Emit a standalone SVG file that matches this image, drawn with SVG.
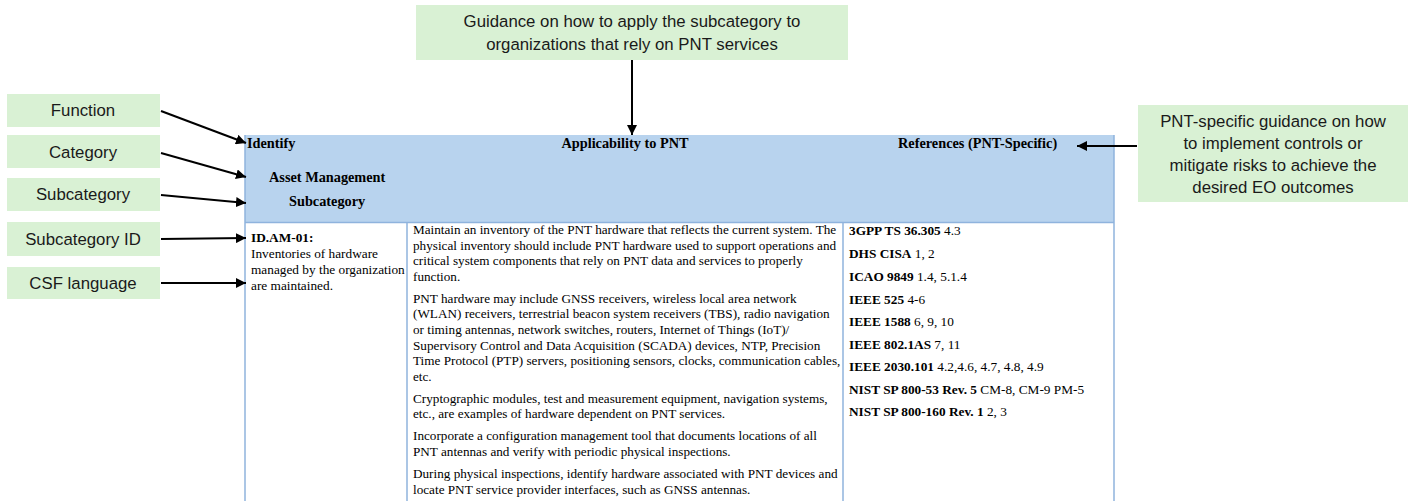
<svg xmlns="http://www.w3.org/2000/svg" width="1415" height="501" viewBox="0 0 1415 501">
<style>
.lbl{fill:#d9f1d4;}
.lt{font-family:"Liberation Sans",Arial,sans-serif;font-size:16.8px;fill:#1a1a1a;text-anchor:middle;}
.ser{font-family:"Liberation Serif","Times New Roman",serif;font-size:13.2px;fill:#000;}
.hd{font-family:"Liberation Serif","Times New Roman",serif;font-size:14.3px;font-weight:bold;fill:#000;}
.c1{font-size:13.3px;}
.c3{font-size:13.3px;}
.b{font-weight:bold;}
.con{stroke:#000;stroke-width:2;fill:none;marker-end:url(#ah);}
.grid{stroke:#8fb3dd;stroke-width:1.5;fill:none;}
</style>
<defs>
<marker id="ah" viewBox="0 0 10 10" refX="10" refY="5" markerWidth="5" markerHeight="5" orient="auto" markerUnits="strokeWidth">
<path d="M0,0 L10,5 L0,10 z" fill="#000"/>
</marker>
</defs>
<rect width="1415" height="501" fill="#fff"/>

<g id="table">
<rect x="245" y="135" width="869" height="87" fill="#b8d3ee"/>
<line class="grid" x1="245" y1="135" x2="245" y2="501"/>
<line class="grid" x1="1114" y1="135" x2="1114" y2="501"/>
<line class="grid" x1="245" y1="222.5" x2="1114" y2="222.5"/>
<line class="grid" x1="407" y1="222" x2="407" y2="501"/>
<line class="grid" x1="843" y1="222" x2="843" y2="501"/>
<text class="hd" x="247" y="148">Identify</text>
<text class="hd" x="625" y="148" text-anchor="middle">Applicability to PNT</text>
<text class="hd" x="898" y="148">References (PNT-Specific)</text>
<text class="hd" x="269" y="182">Asset Management</text>
<text class="hd" x="289" y="206">Subcategory</text>

<text class="ser c1 b" x="251" y="242">ID.AM-01:</text>
<text class="ser c1" x="251" y="258">Inventories of hardware</text>
<text class="ser c1" x="251" y="274">managed by the organization</text>
<text class="ser c1" x="251" y="290">are maintained.</text>

<text class="ser" x="413" y="234">Maintain an inventory of the PNT hardware that reflects the current system. The</text>
<text class="ser" x="413" y="249.6">physical inventory should include PNT hardware used to support operations and</text>
<text class="ser" x="413" y="265.2">critical system components that rely on PNT data and services to properly</text>
<text class="ser" x="413" y="280.8">function.</text>
<text class="ser" x="413" y="302.8">PNT hardware may include GNSS receivers, wireless local area network</text>
<text class="ser" x="413" y="318.4">(WLAN) receivers, terrestrial beacon system receivers (TBS), radio navigation</text>
<text class="ser" x="413" y="334">or timing antennas, network switches, routers, Internet of Things (IoT)/</text>
<text class="ser" x="413" y="349.6">Supervisory Control and Data Acquisition (SCADA) devices, NTP, Precision</text>
<text class="ser" x="413" y="365.2">Time Protocol (PTP) servers, positioning sensors, clocks, communication cables,</text>
<text class="ser" x="413" y="380.8">etc.</text>
<text class="ser" x="413" y="402.8">Cryptographic modules, test and measurement equipment, navigation systems,</text>
<text class="ser" x="413" y="418.4">etc., are examples of hardware dependent on PNT services.</text>
<text class="ser" x="413" y="440.4">Incorporate a configuration management tool that documents locations of all</text>
<text class="ser" x="413" y="456">PNT antennas and verify with periodic physical inspections.</text>
<text class="ser" x="413" y="478">During physical inspections, identify hardware associated with PNT devices and</text>
<text class="ser" x="413" y="493.6">locate PNT service provider interfaces, such as GNSS antennas.</text>

<text class="ser c3" x="849" y="235"><tspan class="b">3GPP TS 36.305</tspan> 4.3</text>
<text class="ser c3" x="849" y="258"><tspan class="b">DHS CISA</tspan> 1, 2</text>
<text class="ser c3" x="849" y="281"><tspan class="b">ICAO 9849</tspan> 1.4, 5.1.4</text>
<text class="ser c3" x="849" y="303.5"><tspan class="b">IEEE 525</tspan> 4-6</text>
<text class="ser c3" x="849" y="326"><tspan class="b">IEEE 1588</tspan> 6, 9, 10</text>
<text class="ser c3" x="849" y="348.5"><tspan class="b">IEEE 802.1AS</tspan> 7, 11</text>
<text class="ser c3" x="849" y="371"><tspan class="b">IEEE 2030.101</tspan> 4.2,4.6, 4.7, 4.8, 4.9</text>
<text class="ser c3" x="849" y="393.5"><tspan class="b">NIST SP 800-53 Rev. 5</tspan> CM-8, CM-9 PM-5</text>
<text class="ser c3" x="849" y="416"><tspan class="b">NIST SP 800-160 Rev. 1</tspan> 2, 3</text>
</g>

<g id="function">
<rect class="lbl" x="7" y="94" width="153" height="33"/>
<text class="lt" x="83" y="116">Function</text>
</g>
<g id="category">
<rect class="lbl" x="7" y="135" width="153" height="33"/>
<text class="lt" x="83" y="158">Category</text>
</g>
<g id="subcategory">
<rect class="lbl" x="7" y="178" width="153" height="33"/>
<text class="lt" x="83" y="200">Subcategory</text>
</g>
<g id="subcategory-id">
<rect class="lbl" x="7" y="222" width="153" height="34"/>
<text class="lt" x="83" y="245">Subcategory ID</text>
</g>
<g id="csf-language">
<rect class="lbl" x="7" y="267" width="153" height="32"/>
<text class="lt" x="83" y="289">CSF language</text>
</g>
<g id="guidance">
<rect class="lbl" x="416" y="5" width="432" height="55"/>
<text class="lt" x="632" y="27">Guidance on how to apply the subcategory to</text>
<text class="lt" x="632" y="50">organizations that rely on PNT services</text>
</g>
<g id="pnt-guidance">
<rect class="lbl" x="1138" y="105" width="270" height="97"/>
<text class="lt" x="1273" y="127">PNT-specific guidance on how</text>
<text class="lt" x="1273" y="149">to implement controls or</text>
<text class="lt" x="1273" y="171">mitigate risks to achieve the</text>
<text class="lt" x="1273" y="193">desired EO outcomes</text>
</g>

<g id="connectors">
<line class="con" x1="161" y1="111" x2="246" y2="143"/>
<line class="con" x1="161" y1="153" x2="246" y2="177"/>
<line class="con" x1="161" y1="195" x2="246" y2="203"/>
<line class="con" x1="161" y1="239" x2="246" y2="238"/>
<line class="con" x1="161" y1="283" x2="246" y2="283"/>
<line class="con" x1="632" y1="60" x2="632" y2="135"/>
<line class="con" x1="1137" y1="146" x2="1077" y2="146"/>
</g>
</svg>
